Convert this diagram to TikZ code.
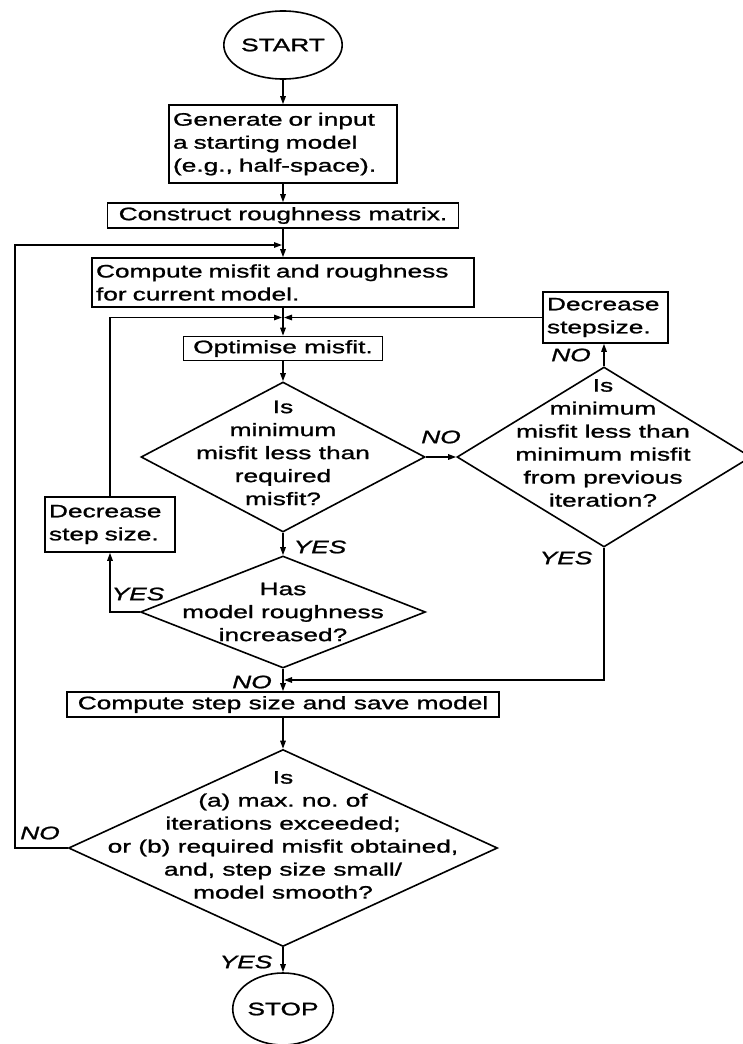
\documentclass[tikz,border=0pt]{standalone}
\usepackage{fontspec}
\setmainfont{Liberation Sans}[FakeStretch=1.46,FakeBold=1.2]
\usetikzlibrary{shapes.geometric,arrows.meta}
\begin{document}
\begin{tikzpicture}[x=1pt,y=-1pt,
  every node/.style={font=\fontsize{18}{23}\selectfont},
  box/.style={draw, line width=1.6pt, rectangle, inner xsep=4pt, inner ysep=0pt},
  dia/.style={draw, diamond, line width=1.6pt, inner sep=0pt},
  term/.style={draw, ellipse, line width=1.6pt, inner sep=0pt},
  lab/.style={font=\fontsize{18}{23}\selectfont\itshape},
  conn/.style={line width=1.4pt},
  arr/.style={conn, -{Triangle[length=8pt,width=5.5pt]}}
]
\useasboundingbox (0,0) rectangle (743,1044);

% terminals
\node[term, minimum width=102pt, minimum height=68pt] (start) at (283,45) {START};
\node[term, minimum width=98pt, minimum height=72pt] (stop) at (283,1009) {STOP};

% process boxes
\node[box, minimum width=228pt, minimum height=78pt, text width=220pt, align=left] (gen) at (283,144) {Generate or input\\a starting model\\(e.g., half-space).};
\node[box, minimum width=351pt, minimum height=25pt] (con) at (283,215.5) {Construct roughness matrix.};
\node[box, minimum width=382pt, minimum height=49pt, text width=374pt, align=left] (cmp) at (283,282.5) {Compute misfit and roughness\\for current model.};
\node[box, minimum width=199pt, minimum height=24pt] (opt) at (283,348.5) {Optimise misfit.};
\node[box, minimum width=125pt, minimum height=51pt, text width=117pt, align=left] (dss) at (605.5,317.5) {Decrease\\stepsize.};
\node[box, minimum width=130pt, minimum height=55pt, text width=122pt, align=left] (dsl) at (110,524.5) {Decrease\\step size.};
\node[box, minimum width=432pt, minimum height=25pt] (csz) at (283,704.5) {Compute step size and save model};

% decisions
\node[dia, minimum width=284pt, minimum height=150pt] (d1) at (283,457) {};
\node[dia, minimum width=294pt, minimum height=180pt] (d2) at (604,457) {};
\node[dia, minimum width=285pt, minimum height=112pt] (d3) at (283,612) {};
\node[dia, minimum width=429pt, minimum height=197pt] (d4) at (283,848) {};

\node[align=center] (t1) at (283,453) {Is\\minimum\\misfit less than\\required\\misfit?};
\node[align=center] (t2) at (603,443) {Is\\minimum\\misfit less than\\minimum misfit\\from previous\\iteration?};
\node[align=center] (t3) at (283,612) {Has\\model roughness\\increased?};
\node[align=center] (t4) at (283,835) {Is\\(a) max.\ no.\ of\\iterations exceeded;\\or (b) required misfit obtained,\\and, step size small/\\model smooth?};

% junction coordinates
\coordinate (j1) at (282,245);
\coordinate (j2) at (282,317.5);
\coordinate (j3) at (284,317.5);
\coordinate (j4) at (284,680);
\coordinate (o1) at (15,245);

% main flow
\draw[arr] (start) -- (gen);
\draw[arr] (gen) -- (con);
\draw[arr] (con) -- (cmp);
\draw[arr] (cmp) -- (opt);
\draw[arr] (opt) -- (d1);
\draw[arr] (d1) -- (d3);
\draw[arr] (d1.east) -- (d2.west);
\draw[arr] (d2.north) -- (d2.north |- dss.south);
\draw[arr] (d3) -- (csz);
\draw[arr] (csz) -- (d4);
\draw[arr] (d4) -- (stop);

% loops
\draw[arr] (d4.west) -- (d4.west -| o1) -- (o1) -- (j1);
\draw[arr] (dsl.north) -- (dsl.north |- j2) -- (j2);
\draw[arr] (dss.west) -- (j3);
\draw[arr] (d3.west) -- (d3.west -| dsl.south) -- (dsl.south);
\draw[arr] (d2.south) -- (d2.south |- j4) -- (j4);

% labels
\node[lab] (l1) at (571,355) {NO};
\node[lab] (l2) at (441,437) {NO};
\node[lab] (l3) at (320,547) {YES};
\node[lab] (l4) at (566,558) {YES};
\node[lab] (l5) at (138,594) {YES};
\node[lab] (l6) at (252,682) {NO};
\node[lab] (l7) at (40,833) {NO};
\node[lab] (l8) at (246,962) {YES};
\end{tikzpicture}
\end{document}
